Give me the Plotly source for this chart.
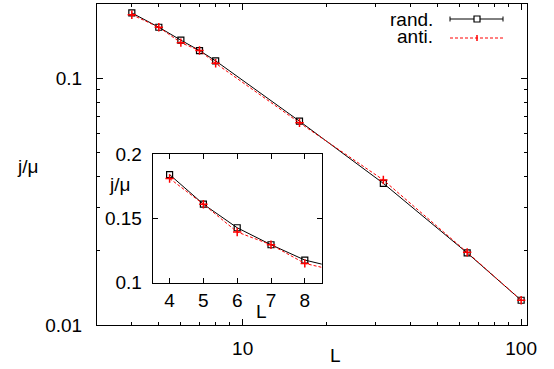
import plotly.graph_objects as go

L = [4, 5, 6, 7, 8, 16, 32, 64, 100]
rand_vals = [0.184, 0.161, 0.1427, 0.1295, 0.1176, 0.067, 0.0375, 0.0196, 0.0126]
anti_vals = [0.181, 0.161, 0.1394, 0.1295, 0.115, 0.066, 0.0387, 0.0197, 0.0126]

W, H = 554, 369
ml, mr, mt, mb = 97, 27, 4, 44
pw, ph = W - ml - mr, H - mt - mb

def px(x):
    return (x - ml) / pw

def py(y):
    return (H - mb - y) / ph

FONT = "Liberation Sans, Arial, sans-serif"
FS = 19

fig = go.Figure()

for xa, ya in [("x", "y"), ("x2", "y2")]:
    fig.add_trace(go.Scatter(x=L, y=rand_vals, mode="lines+markers", xaxis=xa, yaxis=ya,
                             line=dict(color="black", width=1),
                             marker=dict(symbol="square-open", size=6, color="black", line=dict(width=1.2)),
                             showlegend=False, cliponaxis=True))
    fig.add_trace(go.Scatter(x=L, y=anti_vals, mode="lines+markers", xaxis=xa, yaxis=ya,
                             line=dict(color="#ff0000", width=1, dash="3px,2px"),
                             marker=dict(symbol="cross-thin-open", size=6, color="#ff0000", line=dict(width=1.5, color="#ff0000")),
                             showlegend=False, cliponaxis=True))

axis_common = dict(showline=True, linecolor="black", linewidth=1, mirror="allticks",
                   ticks="inside", tickcolor="black", showgrid=False, zeroline=False,
                   automargin=False,
                   tickfont=dict(family=FONT, size=FS, color="black"))

fig.update_layout(
    width=W, height=H,
    margin=dict(l=ml, r=mr, t=mt, b=mb, autoexpand=False),
    paper_bgcolor="white", plot_bgcolor="white",
    font=dict(family=FONT, size=FS, color="black"),
    xaxis=dict(type="log", range=[0.477, 2.021], domain=[0, 1], anchor="y",
               tickvals=[10, 100], ticktext=["10", "100"], ticklen=6,
               minor=dict(ticks="inside", ticklen=3, tickcolor="black",
                          tickvals=[3, 4, 5, 6, 7, 8, 9, 20, 30, 40, 50, 60, 70, 80, 90]),
               ticklabelstandoff=6, **axis_common),
    yaxis=dict(type="log", range=[-2, -0.699], domain=[0, 1], anchor="x",
               tickvals=[0.01, 0.1], ticktext=["0.01", "0.1"], ticklen=6,
               minor=dict(ticks="inside", ticklen=3, tickcolor="black",
                          tickvals=[0.02, 0.03, 0.04, 0.05, 0.06, 0.07, 0.08, 0.09, 0.2]),
               ticklabelstandoff=10, **axis_common),
    xaxis2=dict(range=[3.5, 8.5], domain=[px(152.7), px(321.7)], anchor="y2",
                tickvals=[4, 5, 6, 7, 8], ticklen=5, ticklabelstandoff=0, **axis_common),
    yaxis2=dict(range=[0.1, 0.2], domain=[py(282.7), py(154)], anchor="x2",
                tickvals=[0.1, 0.15, 0.2], ticktext=["0.1", "0.15", "0.2"], ticklen=5,
                ticklabelstandoff=6, **axis_common),
)

# inset background
fig.add_shape(type="rect", xref="paper", yref="paper", layer="below",
              x0=px(152.7), x1=px(321.7), y0=py(282.7), y1=py(154),
              fillcolor="white", line=dict(width=0))

# axis titles and legend labels
ann = [
    ("L", 335, 356, "center"),
    ("j/\u03bc", 27, 166, "center"),
    ("L", 261, 311, "center"),
    ("j/\u03bc", 119, 184, "center"),
    ("rand.", 434, 19, "right"),
    ("anti.", 434, 36, "right"),
]
for t, x, y, al in ann:
    fig.add_annotation(text=t, x=px(x), y=py(y), xref="paper", yref="paper",
                       xanchor=al, yanchor="middle", showarrow=False, borderpad=0,
                       font=dict(family=FONT, size=FS, color="black"))

# legend samples
x0s, x1s = px(450), px(503)
yr, ya_ = py(19), py(38)
fig.add_shape(type="line", xref="paper", yref="paper", x0=x0s, x1=x1s, y0=yr, y1=yr,
              line=dict(color="black", width=1))
for xx in (450, 503):
    fig.add_shape(type="line", xref="paper", yref="paper", x0=px(xx), x1=px(xx),
                  y0=py(16.5), y1=py(21.5), line=dict(color="black", width=1))
fig.add_shape(type="rect", xref="paper", yref="paper", x0=px(474), x1=px(480),
              y0=py(22), y1=py(16), line=dict(color="black", width=1.2), fillcolor="white")
fig.add_shape(type="line", xref="paper", yref="paper", x0=x0s, x1=x1s, y0=ya_, y1=ya_,
              line=dict(color="#ff0000", width=1, dash="3px,2px"))
fig.add_shape(type="line", xref="paper", yref="paper", x0=px(477), x1=px(477),
              y0=py(35), y1=py(41), line=dict(color="#ff0000", width=1.5))

fig.write_html("out.html")
